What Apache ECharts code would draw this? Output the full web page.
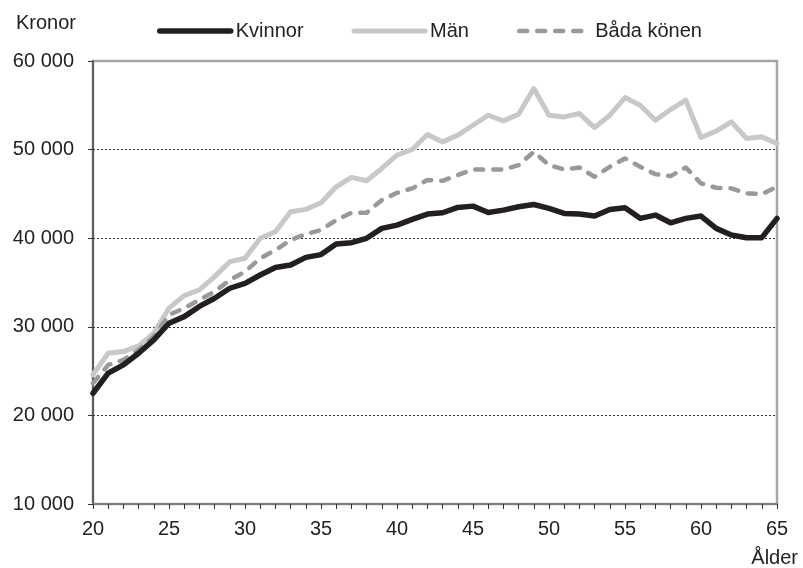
<!DOCTYPE html>
<html>
<head>
<meta charset="utf-8">
<script src="https://cdn.jsdelivr.net/npm/echarts@6/dist/echarts.min.js"></script>
<style>
html, body { margin: 0; padding: 0; background: #fff; }
#chart { width: 803px; height: 568px; }
</style>
</head>
<body>
<div id="chart"></div>
<script>
// åldrar 20-65
var ages = [];
for (var a = 20; a <= 65; a++) ages.push(String(a));

var kvinnor = [22500, 24770, 25700, 27020, 28520, 30400, 31150, 32300, 33220, 34350,
    34910, 35850, 36700, 36970, 37840, 38150, 39340, 39490, 39990, 41110,
    41480, 42120, 42720, 42870, 43470, 43620, 42910, 43170, 43550, 43800,
    43370, 42800, 42720, 42500, 43250, 43430, 42240, 42610, 41740, 42240,
    42500, 41110, 40360, 40060, 40060, 42240];

var man = [24600, 27020, 27200, 27850, 29280, 32100, 33520, 34160, 35660, 37350,
    37730, 39990, 40730, 42980, 43250, 44000, 45800, 46860, 46480, 47870,
    49370, 50010, 51700, 50870, 51630, 52750, 53880, 53240, 53990, 56890,
    53880, 53690, 54070, 52490, 53880, 55870, 55010, 53320, 54520, 55570,
    51360, 52080, 53130, 51250, 51440, 50690];

var bada = [23640, 25700, 26270, 27400, 28900, 31340, 32100, 33030, 33970, 35280,
    36220, 37730, 38660, 39790, 40470, 40920, 42050, 42870, 42870, 44300,
    45120, 45620, 46560, 46480, 47120, 47760, 47760, 47760, 48250, 49750,
    48250, 47760, 47980, 46930, 48060, 49000, 48060, 47230, 47010, 47980,
    46180, 45690, 45620, 45060, 44980, 45800];

var font = "'Liberation Sans', Arial, sans-serif";

var chart = echarts.init(document.getElementById("chart"));
var option = {
    animation: false,
    textStyle: { fontFamily: font },
    grid: {
        left: 93, right: 26, top: 61, bottom: 64,
        show: true,
        borderColor: '#a6a6a6',
        borderWidth: 2.5
    },
    legend: {
        data: ['Kvinnor', 'Män', 'Båda könen'],
        left: 152,
        top: 16,
        itemWidth: 71,
        itemHeight: 22,
        itemGap: 48,
        itemStyle: { opacity: 0 },     // dölj symbolen, bara linjen
        lineStyle: { width: 'inherit' },
        textStyle: { fontSize: 20, color: '#222', fontFamily: font }
    },
    xAxis: {
        type: 'category',
        data: ages,
        boundaryGap: false,
        name: 'Ålder',
        nameLocation: 'end',
        nameGap: 21,
        nameTextStyle: {
            fontSize: 20, color: '#222', align: 'right', verticalAlign: 'top',
            padding: [44, 0, 0, 0]
        },
        axisLine: { lineStyle: { color: '#808080', width: 2 } },
        axisTick: { interval: 0, length: 5, lineStyle: { color: '#333' } },
        axisLabel: { interval: 4, fontSize: 20, color: '#222', margin: 15 },
        splitLine: { show: false }
    },
    yAxis: {
        type: 'value',
        min: 10000,
        max: 60000,
        interval: 10000,
        name: 'Kronor',
        nameLocation: 'end',
        nameGap: 38,
        nameTextStyle: {
            fontSize: 20, color: '#222', align: 'right', verticalAlign: 'middle',
            padding: [0, 17, 0, 0]
        },
        axisLine: { show: true, lineStyle: { color: '#444', width: 1.5 } },
        axisTick: { show: true, length: 5, lineStyle: { color: '#333' } },
        axisLabel: {
            fontSize: 20, color: '#222', margin: 19,
            formatter: function (v) {
                return String(v).replace(/\B(?=(\d{3})+(?!\d))/g, ' ');
            }
        },
        splitLine: {
            show: true,
            showMinLine: false,
            showMaxLine: false,
            lineStyle: { color: '#333', type: [2, 2], width: 1 }
        }
    },
    series: [{
        name: 'Kvinnor',
        type: 'line',
        data: kvinnor,
        z: 5,
        symbol: 'none',
        lineStyle: { color: '#231f20', width: 5.5, cap: 'round', join: 'round' },
        itemStyle: { color: '#231f20' }
    }, {
        name: 'Män',
        type: 'line',
        data: man,
        z: 3,
        symbol: 'none',
        lineStyle: { color: '#c8c8c8', width: 5, cap: 'round', join: 'round' },
        itemStyle: { color: '#c8c8c8' }
    }, {
        name: 'Båda könen',
        type: 'line',
        data: bada,
        z: 4,
        symbol: 'none',
        lineStyle: { color: '#999999', width: 4.5, type: [8, 10], cap: 'round', join: 'round' },
        itemStyle: { color: '#999999' }
    }]
};
chart.setOption(option);
window.addEventListener("resize", function () {
    chart.resize();
});
</script>
</body>
</html>
